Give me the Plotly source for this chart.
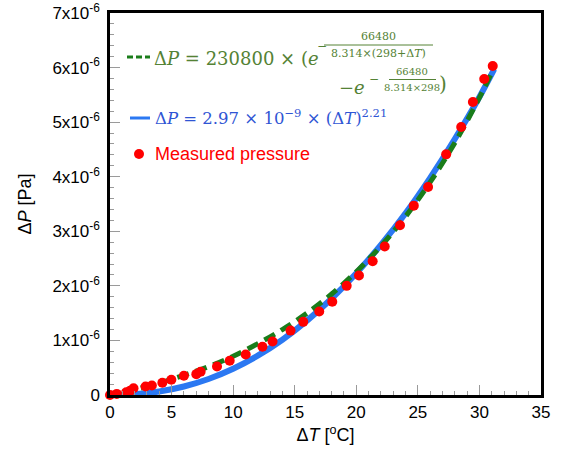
import plotly.graph_objects as go

# Measured points (dT in degC, dP in 1e-6 Pa)
meas_dt = [0.0, 0.55, 1.32, 1.64, 1.91, 2.89, 3.40, 4.25, 4.98, 6.0, 7.01, 7.36, 8.69,
           9.72, 11.02, 12.38, 13.2, 14.66, 15.69, 16.99, 18.05, 19.22, 20.22, 21.33,
           22.31, 23.55, 24.67, 25.83, 27.30, 28.52, 29.47, 30.39, 31.08]
meas_dp = [0.0, 0.02, 0.05, 0.08, 0.125, 0.156, 0.174, 0.224, 0.279, 0.352, 0.382, 0.426,
           0.523, 0.628, 0.743, 0.884, 0.98, 1.18, 1.34, 1.53, 1.71, 2.0, 2.19, 2.45,
           2.72, 3.11, 3.47, 3.81, 4.41, 4.91, 5.37, 5.79, 6.03]

# Arrhenius-type fit (green dashed)
arr_dt = [1.0, 2, 4, 6, 8, 10, 12, 14, 16, 18, 20, 22, 24, 26, 28, 30, 31.2]
arr_dp = [0.05, 0.10, 0.22, 0.36, 0.52, 0.71, 0.94, 1.20, 1.50, 1.85, 2.26, 2.73,
          3.27, 3.90, 4.62, 5.45, 6.0]

# Power-law fit (blue)
pow_dt = [0.0, 2, 4, 6, 8, 10, 12, 14, 16, 18, 20, 22, 24, 26, 28, 30, 31.2]
pow_dp = [0.0, 0.014, 0.064, 0.156, 0.294, 0.482, 0.721, 1.013, 1.363, 1.768, 2.231,
          2.75, 3.33, 3.98, 4.69, 5.46, 5.97]

y_ticks = [0, 1, 2, 3, 4, 5, 6, 7]
y_ticktext = ["0"] + ["%dx10<sup>-6</sup>" % v for v in y_ticks[1:]]
x_ticks = [0, 5, 10, 15, 20, 25, 30, 35]

W, H = 564, 451
L, R, T, B = 110, 23, 13, 56
PW, PH = W - L - R, H - T - B


# helpers: page pixel -> paper coords
def px(x):
    return (x - L) / PW


def py(y):
    return (H - B - y) / PH


GREEN_TXT = "#548235"
BLUE_TXT = "#2f55d4"
SERIF = "DejaVu Serif"

fig = go.Figure()
fig.add_trace(go.Scatter(x=pow_dt, y=[v * 1e-6 for v in pow_dp], mode="lines",
                         line=dict(color="#2b78f2", width=6), line_shape="spline"))
fig.add_trace(go.Scatter(x=arr_dt, y=[v * 1e-6 for v in arr_dp], mode="lines",
                         line=dict(color="#1a7d1a", width=5, dash="12px,7px"), line_shape="spline"))
fig.add_trace(go.Scatter(x=meas_dt, y=[v * 1e-6 for v in meas_dp], mode="markers",
                         marker=dict(color="#ff0000", size=10), cliponaxis=False))

ann = []


def txt(x, y, s, size, color, xanchor="left", family=SERIF):
    ann.append(dict(x=px(x), y=py(y), xref="paper", yref="paper", text=s, showarrow=False,
                    xanchor=xanchor, yanchor="middle", borderpad=0,
                    font=dict(size=size, color=color, family=family)))


# green formula, line 1
txt(153, 59, "Δ<i>P</i> = 230800 × (<i>e</i>", 18, GREEN_TXT)
txt(316, 46, "−", 12, GREEN_TXT)
txt(378, 37, "66480", 11, GREEN_TXT, "center")
txt(378, 53, "8.314×(298+Δ<i>T</i>)", 11, GREEN_TXT, "center")
# green formula, line 2
txt(366, 87, "−<i>e</i>", 18, GREEN_TXT, "right")
txt(368, 79, "−", 12, GREEN_TXT)
txt(412, 72, "66480", 10, GREEN_TXT, "center")
txt(412, 87, "8.314×298", 10, GREEN_TXT, "center")
txt(438, 84, ")", 20, GREEN_TXT)
# blue formula
txt(154, 117, "Δ<i>P</i> = 2.97 × 10<sup>−9</sup> × (Δ<i>T</i>)<sup>2.21</sup>", 16.5, BLUE_TXT)
# measured
txt(154, 154, "Measured pressure", 18, "#ff0000", family="Liberation Sans")

shapes = [
    dict(type="line", xref="paper", yref="paper", x0=px(324), x1=px(433), y0=py(45), y1=py(45),
         line=dict(color=GREEN_TXT, width=1)),
    dict(type="line", xref="paper", yref="paper", x0=px(389), x1=px(436), y0=py(79.5), y1=py(79.5),
         line=dict(color=GREEN_TXT, width=1)),
    dict(type="line", xref="paper", yref="paper", x0=px(127), x1=px(150), y0=py(57), y1=py(57),
         line=dict(color="#1a7d1a", width=3, dash="6px,3px")),
    dict(type="line", xref="paper", yref="paper", x0=px(130), x1=px(150), y0=py(118), y1=py(118),
         line=dict(color="#2b78f2", width=3)),
    dict(type="circle", xref="paper", yref="paper", x0=px(134), x1=px(144), y0=py(149), y1=py(159),
         fillcolor="#ff0000", line=dict(width=0)),
]

axis_common = dict(showline=True, linecolor="black", linewidth=2.5, mirror=True,
                   ticks="inside", tickcolor="#9a9a9a", ticklen=10, tickwidth=1,
                   showgrid=False, zeroline=False, automargin=False,
                   ticklabeloverflow="allow",
                   tickfont=dict(family="Liberation Sans", size=17, color="black"))

fig.update_layout(
    width=W, height=H, margin=dict(l=L, r=R, t=T, b=B),
    plot_bgcolor="white", paper_bgcolor="white", showlegend=False,
    xaxis=dict(range=[0, 35], tickvals=x_ticks,
               minor=dict(dtick=1, ticks="inside", ticklen=4, tickcolor="#9a9a9a"),
               title=dict(text="Δ<i>T</i> [<sup>o</sup>C]", standoff=8,
                          font=dict(family="Liberation Sans", size=18, color="black")),
               **axis_common),
    yaxis=dict(range=[0, 7e-6], tickvals=[v * 1e-6 for v in y_ticks], ticktext=y_ticktext,
               minor=dict(dtick=0.2e-6, ticks="inside", ticklen=4, tickcolor="#9a9a9a"),
               ticklabelstandoff=4,
               title=dict(text="Δ<i>P</i> [Pa]", standoff=17,
                          font=dict(family="Liberation Sans", size=18, color="black")),
               **axis_common),
    annotations=ann, shapes=shapes,
)

# drop the default 8px body margin so the figure sits at the page corner
fig.write_html("out.html", config={"displayModeBar": False},
               post_script="document.body.style.margin='0';")
